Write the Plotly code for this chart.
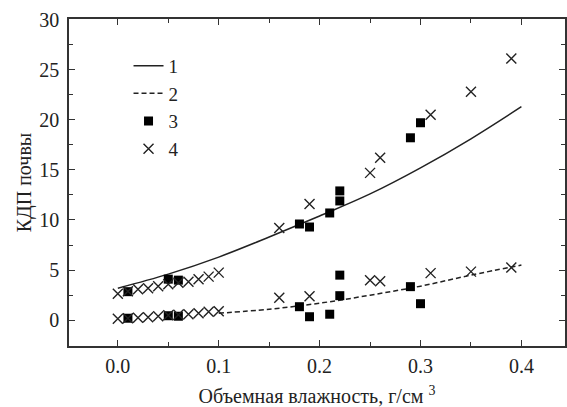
import plotly.graph_objects as go

# Fitted curves
line1_x = [0.0, 0.05, 0.10, 0.15, 0.20, 0.25, 0.30, 0.35, 0.40]
line1_y = [3.2, 4.6, 6.3, 8.3, 10.4, 12.6, 15.2, 18.1, 21.3]

line2_x = [0.10, 0.15, 0.20, 0.25, 0.30, 0.35, 0.40]
line2_y = [0.7, 1.1, 1.7, 2.5, 3.4, 4.5, 5.5]

# Series 3 (filled squares)
sq_x = [0.01, 0.05, 0.06, 0.18, 0.19, 0.21, 0.22, 0.22, 0.29, 0.30,
        0.01, 0.05, 0.06, 0.18, 0.19, 0.21, 0.22, 0.22, 0.29, 0.30]
sq_y = [2.85, 4.1, 4.0, 9.6, 9.3, 10.7, 11.9, 12.9, 18.2, 19.7,
        0.2, 0.45, 0.4, 1.35, 0.35, 0.6, 2.45, 4.5, 3.35, 1.65]

# Series 4 (crosses)
cr_x = [0.00, 0.01, 0.02, 0.03, 0.04, 0.05, 0.06, 0.07, 0.08, 0.09, 0.10,
        0.16, 0.19, 0.25, 0.26, 0.31, 0.35, 0.39,
        0.00, 0.01, 0.02, 0.03, 0.04, 0.05, 0.06, 0.07, 0.08, 0.09, 0.10,
        0.16, 0.19, 0.25, 0.26, 0.31, 0.35, 0.39]
cr_y = [2.65, 2.9, 3.1, 3.2, 3.4, 3.6, 3.75, 3.85, 4.1, 4.35, 4.75,
        9.2, 11.6, 14.7, 16.2, 20.5, 22.8, 26.1,
        0.15, 0.2, 0.25, 0.3, 0.4, 0.5, 0.55, 0.6, 0.7, 0.85, 0.9,
        2.25, 2.4, 4.0, 3.9, 4.7, 4.85, 5.25]

x_ticks = [0.0, 0.1, 0.2, 0.3, 0.4]
y_ticks = [0, 5, 10, 15, 20, 25, 30]

FONT = "Liberation Serif, Times New Roman, serif"

fig = go.Figure()
fig.add_trace(go.Scatter(x=line1_x, y=line1_y, mode="lines", name="1",
                         line=dict(color="#222", width=1.5, shape="spline")))
fig.add_trace(go.Scatter(x=line2_x, y=line2_y, mode="lines", name="2",
                         line=dict(color="#222", width=1.5, dash="5px,3px", shape="spline")))
fig.add_trace(go.Scatter(x=sq_x, y=sq_y, mode="markers", name="3",
                         marker=dict(symbol="square", size=9, color="black")))
fig.add_trace(go.Scatter(x=cr_x, y=cr_y, mode="markers", name="4",
                         marker=dict(symbol="x-thin", size=10,
                                     line=dict(color="#222", width=1.4))))

axis_common = dict(showline=True, linecolor="#333", linewidth=1.5, mirror="ticks",
                   ticks="inside", ticklen=6, tickwidth=1.2, tickcolor="#333",
                   showgrid=False, zeroline=False,
                   tickfont=dict(family=FONT, size=20, color="#222"))

fig.update_xaxes(range=[-0.0484, 0.4432], tickvals=x_ticks, tickformat=".1f",
                 minor=dict(dtick=0.05, ticks="inside", ticklen=4, tickcolor="#333", tickwidth=1.2),
                 title=dict(text="Объемная влажность, г/см <sup>3</sup>",
                            font=dict(family=FONT, size=20, color="#222"), standoff=16),
                 ticklabelstandoff=1,
                 **axis_common)
fig.update_yaxes(range=[-2.57, 30.05], tickvals=y_ticks,
                 minor=dict(dtick=2.5, ticks="inside", ticklen=4, tickcolor="#333", tickwidth=1.2),
                 title=dict(text="КДП почвы",
                            font=dict(family=FONT, size=20, color="#222"), standoff=2),
                 ticklabelstandoff=4,
                 **axis_common)

fig.update_layout(
    width=567, height=407,
    margin=dict(l=69, r=0, t=19, b=61),
    plot_bgcolor="white", paper_bgcolor="white",
    showlegend=True,
    legend=dict(x=0.12, y=0.915, xanchor="left", yanchor="top",
                bgcolor="rgba(0,0,0,0)",
                font=dict(family=FONT, size=19, color="#222")),
)

fig.write_html("out.html")
